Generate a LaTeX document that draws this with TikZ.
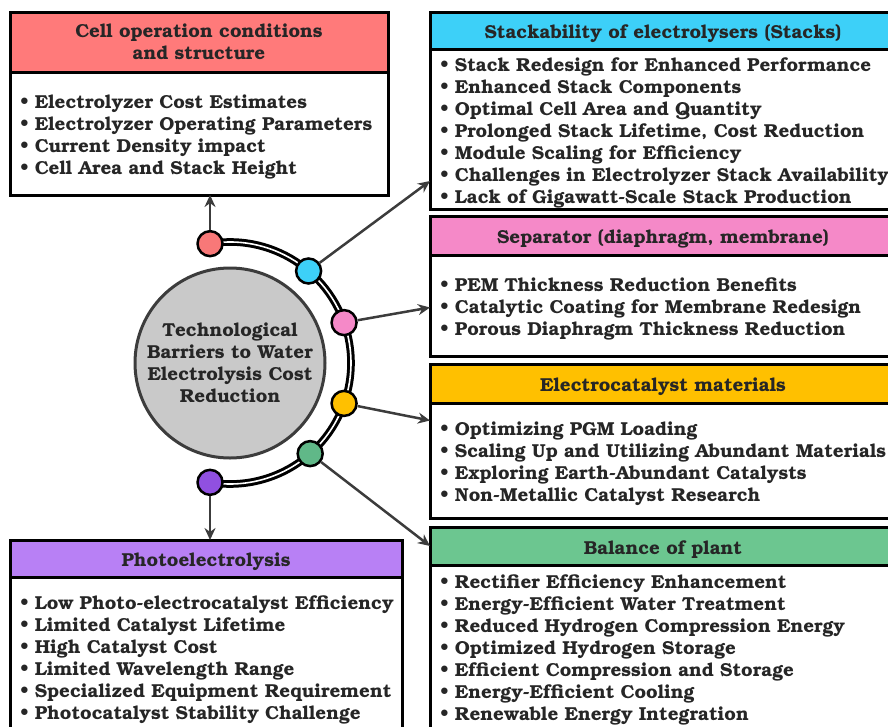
\documentclass[tikz,border=0pt]{standalone}
\usepackage[T1]{fontenc}
\usepackage{bookman}
\usetikzlibrary{arrows.meta,positioning}
\definecolor{cellred}{HTML}{FF7A7A}
\definecolor{stackcyan}{HTML}{3DD0F8}
\definecolor{seppink}{HTML}{F589C8}
\definecolor{electroorange}{HTML}{FFC000}
\definecolor{balgreen}{HTML}{6CC690}
\definecolor{photopurple}{HTML}{B880F5}
\definecolor{dotred}{HTML}{F87878}
\definecolor{dotpurple}{HTML}{9050E0}
\definecolor{dotgreen}{HTML}{60B888}
\definecolor{coregray}{HTML}{C9C9C9}
\definecolor{linegray}{HTML}{3C3C3C}
\definecolor{textgray}{HTML}{262626}
\newcommand{\itm}[1]{\mbox{\textbullet\ #1}}

\begin{document}
\begin{tikzpicture}[x=1pt,y=-1pt,
    font=\fontsize{18.75}{22}\selectfont\bfseries,
    head/.style={draw=black, line width=3pt, outer sep=0pt, inner sep=0pt, align=center, text=textgray,
        execute at begin node=\rule{0pt}{20pt}},
    body/.style={draw=black, line width=3pt, outer sep=0pt, inner xsep=10pt, inner ysep=0pt, fill=white, align=left, text=textgray,
        execute at begin node=\rule{0pt}{21pt}},
    dot/.style={circle, draw=black, line width=2.5pt, minimum size=25pt, inner sep=0pt},
    arr/.style={draw=linegray, line width=2.5pt, -{Stealth[length=12pt,width=11pt]}}]
    \useasboundingbox (0,0) rectangle (888,726);
    % Riquadro in alto a sinistra
    \node[head, fill=cellred, minimum width=378pt, minimum height=60pt, anchor=north west] (cellhead) at (10,12)
        {Cell operation conditions\\and structure};
    \node[body, text width=358pt, minimum height=123pt, below=0pt of cellhead] (cellbody)
        {\itm{Electrolyzer Cost Estimates}\\ \itm{Electrolyzer Operating Parameters}\\
         \itm{Current Density impact}\\ \itm{Cell Area and Stack Height}};
    % Riquadri a destra
    \node[head, fill=stackcyan, minimum width=466pt, minimum height=37pt, anchor=north west] (stackhead) at (430,12)
        {Stackability of electrolysers (Stacks)};
    \node[body, text width=446pt, minimum height=160pt, below=0pt of stackhead] (stackbody)
        {\itm{Stack Redesign for Enhanced Performance}\\ \itm{Enhanced Stack Components}\\
         \itm{Optimal Cell Area and Quantity}\\ \itm{Prolonged Stack Lifetime, Cost Reduction}\\
         \itm{Module Scaling for Efficiency}\\ \itm{Challenges in Electrolyzer Stack Availability}\\
         \itm{Lack of Gigawatt-Scale Stack Production}};
    \node[head, fill=seppink, minimum width=466pt, minimum height=39pt, anchor=north west] (sephead) at (430,216)
        {Separator (diaphragm, membrane)};
    \node[body, text width=446pt, minimum height=101pt, below=0pt of sephead] (sepbody)
        {\itm{PEM Thickness Reduction Benefits}\\ \itm{Catalytic Coating for Membrane Redesign}\\
         \itm{Porous Diaphragm Thickness Reduction}};
    \node[head, fill=electroorange, minimum width=466pt, minimum height=39pt, anchor=north west] (electrohead) at (430,364)
        {Electrocatalyst materials};
    \node[body, text width=446pt, minimum height=115pt, below=0pt of electrohead] (electrobody)
        {\itm{Optimizing PGM Loading}\\ \itm{Scaling Up and Utilizing Abundant Materials}\\
         \itm{Exploring Earth-Abundant Catalysts}\\ \itm{Non-Metallic Catalyst Research}};
    \node[head, fill=balgreen, minimum width=466pt, minimum height=38pt, anchor=north west] (balhead) at (430,527)
        {Balance of plant};
    \node[body, text width=446pt, minimum height=163pt, below=0pt of balhead] (balbody)
        {\itm{Rectifier Efficiency Enhancement}\\ \itm{Energy-Efficient Water Treatment}\\
         \itm{Reduced Hydrogen Compression Energy}\\ \itm{Optimized Hydrogen Storage}\\
         \itm{Efficient Compression and Storage}\\ \itm{Energy-Efficient Cooling}\\
         \itm{Renewable Energy Integration}};
    % Riquadro in basso a sinistra
    \node[head, fill=photopurple, minimum width=392pt, minimum height=37pt, anchor=north west] (photohead) at (10,540)
        {Photoelectrolysis};
    \node[body, text width=372pt, minimum height=158pt, below=0pt of photohead] (photobody)
        {\itm{Low Photo-electrocatalyst Efficiency}\\ \itm{Limited Catalyst Lifetime}\\
         \itm{High Catalyst Cost}\\ \itm{Limited Wavelength Range}\\
         \itm{Specialized Equipment Requirement}\\ \itm{Photocatalyst Stability Challenge}};
    % Cerchio centrale e arco
    \node[circle, draw=linegray, fill=coregray, line width=3pt, minimum size=190pt, inner sep=0pt,
        align=center, text=textgray] (core) at (230,363)
        {Technological\\Barriers to Water\\Electrolysis Cost\\Reduction};
    \draw[line width=3pt, double=white, double distance=1.6pt]
        ([shift={(-99.5:121)}]core.center) arc[start angle=-99.5, end angle=99.5, radius=121];
    % Pallini sull'arco
    \node[dot, fill=dotred] (dred) at ([shift={(-99.5:121)}]core.center) {};
    \node[dot, fill=stackcyan] (dcyan) at ([shift={(-49.5:121)}]core.center) {};
    \node[dot, fill=seppink] (dpink) at ([shift={(-19.5:121)}]core.center) {};
    \node[dot, fill=electroorange] (dorange) at ([shift={(19.5:121)}]core.center) {};
    \node[dot, fill=dotgreen] (dgreen) at ([shift={(48.5:121)}]core.center) {};
    \node[dot, fill=dotpurple] (dpurple) at ([shift={(99.5:121)}]core.center) {};
    % Frecce
    \draw[arr] (dred) -- (dred |- cellbody.south);
    \draw[arr] (dcyan) -- ([yshift=-52pt]stackbody.west);
    \draw[arr] (dpink) -- ([yshift=-2pt]sepbody.west);
    \draw[arr] (dorange) -- ([yshift=40pt]electrobody.west);
    \draw[arr] (dgreen) -- (balhead.west);
    \draw[arr] (dpurple) -- (dpurple |- photohead.north);
\end{tikzpicture}
\end{document}
